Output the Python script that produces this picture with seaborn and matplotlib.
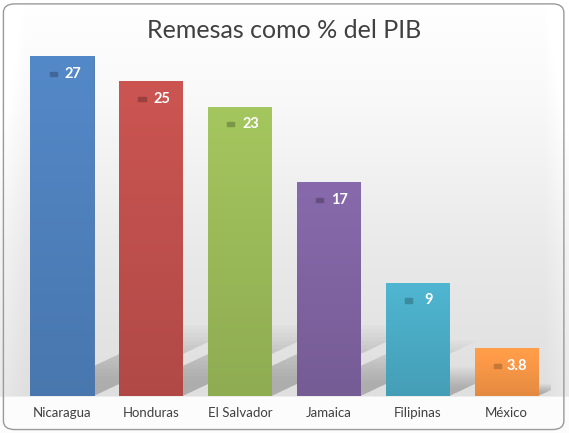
import numpy as np
import pandas as pd
import matplotlib
matplotlib.use("Agg")
import matplotlib.pyplot as plt
import seaborn as sns
from matplotlib.patches import FancyBboxPatch, Rectangle, Polygon
from matplotlib.colors import to_rgb

# data
paises = ["Nicaragua", "Honduras", "El Salvador", "Jamaica", "Filipinas", "México"]
remesas = [27, 25, 23, 17, 9, 3.8]
etiquetas = ["27", "25", "23", "17", "9", "3.8"]
colores = ["#4F81BD", "#C0504D", "#9BBB59", "#8064A2", "#4BACC6", "#F79646"]

df = pd.DataFrame({"pais": paises, "valor": remesas})

sns.set_theme(style="white")
plt.rcParams["font.family"] = ["Lato", "DejaVu Sans"]

fig = plt.figure(figsize=(5.69, 4.33), dpi=100)

# background: white on top, grey floor towards the baseline, white under it
bg = fig.add_axes([0, 0, 1, 1], zorder=-5)
bg.set_axis_off()
rows = np.arange(433)
cols = np.arange(569)
lev = np.interp(rows, [0, 100, 250, 395, 397, 433], [1.0, 0.975, 0.915, 0.875, 0.99, 0.99])
side = np.interp(cols, [0, 25, 544, 569], [0.04, 0.0, 0.0, 0.04])
grid = np.clip(lev[:, None] + side[None, :] * (rows[:, None] < 396), 0, 1)
img = np.repeat(grid[:, :, None], 3, axis=2)
bg.imshow(img, extent=[0, 1, 0, 1], aspect="auto", origin="upper")
box = FancyBboxPatch((0.006, 0.008), 0.985, 0.983, boxstyle="round,pad=0,rounding_size=0.02",
                     transform=fig.transFigure, fill=False, edgecolor="#9a9a9a", linewidth=1.0)
bg.add_patch(box)
bg.set_xlim(0, 1)
bg.set_ylim(0, 1)

ax = fig.add_axes([17.5 / 569, 1 - 396 / 433, 533.5 / 569, 346 / 433])
ax.patch.set_alpha(0)
sns.barplot(data=df, x="pais", y="valor", hue="pais", palette=colores, legend=False,
            width=0.71, ax=ax, saturation=1, zorder=3)
bars = list(ax.patches)

# soft cast shadows behind the bars
for patch in bars:
    x0, w, h = patch.get_x(), patch.get_width(), patch.get_height()
    dy = min(0.24 * h, 5.2)
    dx = dy * 0.3
    for k in range(14):
        f = 1.08 - k * 0.06
        poly = Polygon([(x0, 0), (x0 + w, 0), (x0 + w + dx * f, dy * f), (x0 + dx * f, dy * f)],
                       closed=True, color="#555555", alpha=0.028, linewidth=0, zorder=1)
        ax.add_patch(poly)

# vertical gradient inside bars
for patch, col in zip(bars, colores):
    x0, y0 = patch.get_x(), patch.get_y()
    w, h = patch.get_width(), patch.get_height()
    r, g, b = to_rgb(col)
    t = np.linspace(0, 1, 100)
    light = 1.06 - 0.14 * t
    im = np.zeros((100, 1, 3))
    im[:, 0, 0] = np.clip(r * light, 0, 1)
    im[:, 0, 1] = np.clip(g * light, 0, 1)
    im[:, 0, 2] = np.clip(b * light, 0, 1)
    imobj = ax.imshow(im, extent=[x0, x0 + w, y0, y0 + h], aspect="auto", origin="upper",
                      zorder=3.5)
    imobj.set_clip_path(patch)
    patch.set_edgecolor(tuple(v * 0.9 for v in (r, g, b)))
    patch.set_linewidth(0.6)
ax.set_aspect("auto")
ax.set_xlim(-0.5, 5.5)
ax.set_ylim(0, 27.5)

# value labels with small key marks
for i, (v, lab, col) in enumerate(zip(remesas, etiquetas, colores)):
    y = v - 1.4
    r, g, b = to_rgb(col)
    ax.add_patch(Rectangle((i - 0.14, y - 0.18), 0.08, 0.33,
                           color=(r * 0.8, g * 0.8, b * 0.8), zorder=5))
    ax.text(i + 0.12, y, lab, color="white", fontsize=10.5, fontweight="bold",
            ha="center", va="center", zorder=6)

ax.set_xlabel("")
ax.set_ylabel("")
ax.set_yticks([])
ax.tick_params(axis="x", labelsize=9.5, colors="#404040", length=0, pad=8)
sns.despine(ax=ax, left=True, bottom=True)

fig.text(0.5, 1 - 30 / 433, "Remesas como % del PIB", ha="center", va="center",
         fontsize=18, color="#404040")

fig.savefig("out.png", dpi=100)
